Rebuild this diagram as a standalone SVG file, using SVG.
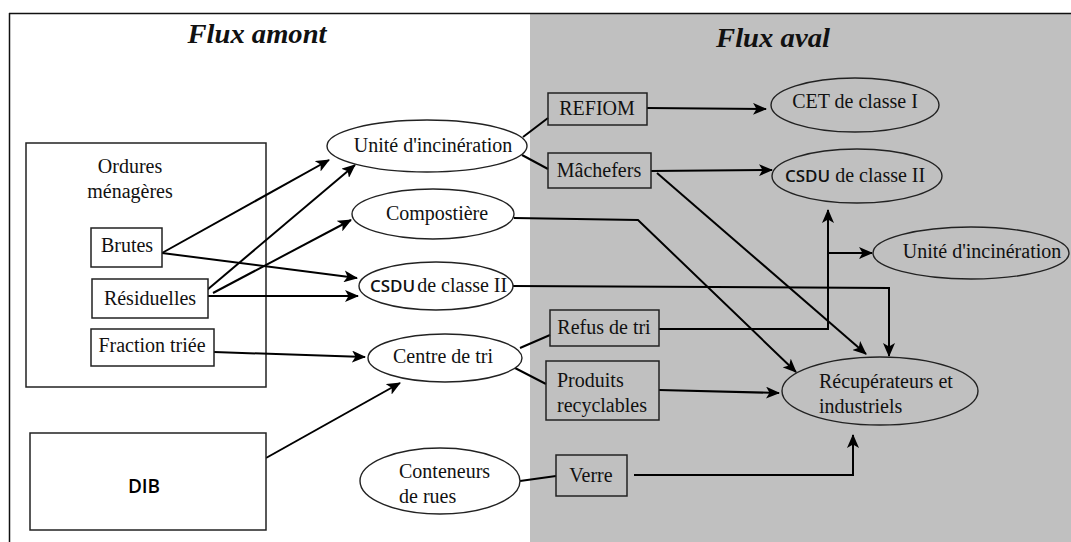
<svg xmlns="http://www.w3.org/2000/svg" width="1071" height="542" viewBox="0 0 1071 542">
  <defs>
    <marker id="arrow" markerWidth="14" markerHeight="12" refX="13" refY="6" orient="auto" markerUnits="userSpaceOnUse">
      <path d="M0,0 L14,6 L0,12 L3.5,6 z" fill="#000"/>
    </marker>
    <style>
      .lbl { font-family: "Liberation Serif", "Times New Roman", serif; font-size: 20px; fill: #111; }
      .mid { text-anchor: middle; }
      .sans { font-family: "Open Sans", "DejaVu Sans", sans-serif; font-weight: 600; font-size: 17px; }
      .title { font-family: "Liberation Serif", "Times New Roman", serif; font-size: 27px; font-weight: bold; font-style: italic; fill: #111; }
      .box { fill: #fff; stroke: #222; stroke-width: 1.5; }
      .box2 { fill: none; stroke: #222; stroke-width: 1.5; }
      .ell { fill: #fff; stroke: #222; stroke-width: 1.4; }
      .ell2 { fill: none; stroke: #222; stroke-width: 1.4; }
      .ln { fill: none; stroke: #000; stroke-width: 2; }
      .arr { fill: none; stroke: #000; stroke-width: 2; marker-end: url(#arrow); }
    </style>
  </defs>

  <!-- backgrounds and frame -->
  <rect x="0" y="0" width="1071" height="542" fill="#fff"/>
  <rect x="530" y="14" width="541" height="528" fill="#c0c0c0"/>
  <line x1="9" y1="13.5" x2="1071" y2="13.5" stroke="#111" stroke-width="1.5"/>
  <line x1="9.5" y1="13" x2="9.5" y2="542" stroke="#111" stroke-width="1.5"/>

  <text class="title mid" x="257" y="43" textLength="139" lengthAdjust="spacingAndGlyphs">Flux amont</text>
  <text class="title mid" x="773" y="47" textLength="114" lengthAdjust="spacingAndGlyphs">Flux aval</text>

  <!-- household waste frame (open, so the flows show through it) -->
  <g id="ordures-menageres">
    <rect class="box2" x="26" y="143" width="240" height="244"/>
    <text class="lbl mid" x="130" y="173">Ordures</text>
    <text class="lbl mid" x="130" y="198">ménagères</text>
  </g>

  <!-- connectors -->
  <g id="connectors">
    <path class="arr" d="M162,253 L329,160"/>
    <path class="arr" d="M207,290 L355,165"/>
    <path class="arr" d="M213,293 L351,220"/>
    <path class="arr" d="M162,253 L357,278"/>
    <path class="arr" d="M208,296 L358,296"/>
    <path class="arr" d="M214,352 L365,357"/>
    <path class="arr" d="M266,458 L400,383"/>
    <path class="ln" d="M523,137 L548,118"/>
    <path class="ln" d="M522,155 L548,169"/>
    <path class="arr" d="M647,108 L766,109"/>
    <path class="arr" d="M651,171 L772,170"/>
    <path class="arr" d="M657,173 L866,354"/>
    <path class="arr" d="M514,218 L638,220 L796,372"/>
    <path class="arr" d="M513,286 L889,288 L889,356"/>
    <path class="ln" d="M520,348 L550,335"/>
    <path class="ln" d="M515,368 L546,384"/>
    <path class="arr" d="M659,329 L828,329 L828,210"/>
    <path class="arr" d="M828,253 L872,253"/>
    <path class="arr" d="M659,390 L779,393"/>
    <path class="ln" d="M520,481 L556,476"/>
    <path class="arr" d="M634,475 L853,475 L853,435"/>
  </g>

  <!-- upstream sources -->
  <g id="brutes">
    <rect class="box" x="91" y="228" width="71" height="39"/>
    <text class="lbl mid" x="127" y="252">Brutes</text>
  </g>
  <g id="residuelles">
    <rect class="box" x="92" y="279" width="116" height="39"/>
    <text class="lbl mid" x="150" y="305">Résiduelles</text>
  </g>
  <g id="fraction-triee">
    <rect class="box" x="91" y="329" width="123" height="37"/>
    <text class="lbl mid" x="152" y="352">Fraction triée</text>
  </g>
  <g id="dib">
    <rect class="box" x="30" y="433" width="236" height="97"/>
    <text class="sans mid" x="144" y="493" style="font-size:19px">DIB</text>
  </g>

  <!-- treatment units -->
  <g id="unite-incineration">
    <ellipse class="ell" cx="427" cy="146" rx="100" ry="26"/>
    <text class="lbl mid" x="433" y="152">Unité d'incinération</text>
  </g>
  <g id="compostiere">
    <ellipse class="ell" cx="433" cy="214" rx="81" ry="25"/>
    <text class="lbl mid" x="437" y="220">Compostière</text>
  </g>
  <g id="csdu-amont">
    <ellipse class="ell" cx="436" cy="286" rx="77" ry="24"/>
    <text class="lbl" x="370" y="292"><tspan class="sans">CSDU</tspan><tspan dx="2">de classe II</tspan></text>
  </g>
  <g id="centre-tri">
    <ellipse class="ell" cx="445" cy="358" rx="77" ry="24"/>
    <text class="lbl mid" x="443" y="363">Centre de tri</text>
  </g>
  <g id="conteneurs">
    <ellipse class="ell" cx="440" cy="481" rx="80" ry="33"/>
    <text class="lbl" x="399" y="478">Conteneurs</text>
    <text class="lbl" x="399" y="503">de rues</text>
  </g>

  <!-- downstream products -->
  <g id="refiom">
    <rect class="box2" x="548" y="93" width="99" height="32"/>
    <text class="lbl mid" x="597" y="115">REFIOM</text>
  </g>
  <g id="machefers">
    <rect class="box2" x="548" y="153" width="103" height="35"/>
    <text class="lbl mid" x="599" y="177">Mâchefers</text>
  </g>
  <g id="refus-tri">
    <rect class="box2" x="550" y="310" width="109" height="36"/>
    <text class="lbl mid" x="604" y="334">Refus de tri</text>
  </g>
  <g id="produits-recyclables">
    <rect class="box2" x="546" y="361" width="113" height="59"/>
    <text class="lbl" x="557" y="387">Produits</text>
    <text class="lbl" x="557" y="412">recyclables</text>
  </g>
  <g id="verre">
    <rect class="box2" x="556" y="455" width="71" height="41"/>
    <text class="lbl mid" x="591" y="482">Verre</text>
  </g>

  <!-- downstream destinations -->
  <g id="cet-classe-1">
    <ellipse class="ell2" cx="855" cy="105" rx="84" ry="27"/>
    <text class="lbl mid" x="855" y="108">CET de classe I</text>
  </g>
  <g id="csdu-aval">
    <ellipse class="ell2" cx="857" cy="176" rx="85" ry="27"/>
    <text class="lbl" x="785" y="182"><tspan class="sans">CSDU</tspan> de classe II</text>
  </g>
  <g id="unite-incineration-aval">
    <ellipse class="ell2" cx="971" cy="253" rx="98" ry="26"/>
    <text class="lbl mid" x="982" y="258">Unité d'incinération</text>
  </g>
  <g id="recuperateurs">
    <ellipse class="ell2" cx="880" cy="391" rx="98" ry="34"/>
    <text class="lbl" x="819" y="388">Récupérateurs et</text>
    <text class="lbl" x="819" y="413">industriels</text>
  </g>
</svg>
